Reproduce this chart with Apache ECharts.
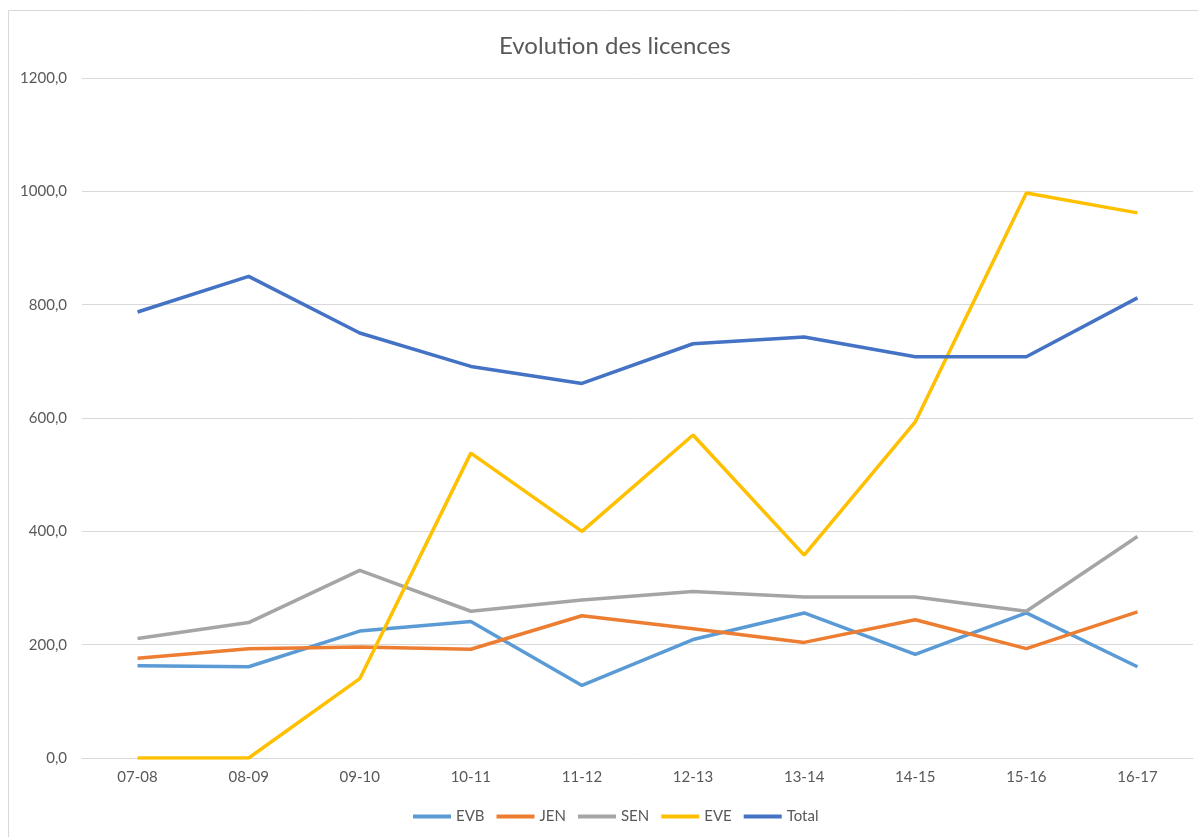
<!DOCTYPE html>
<html>
<head>
<meta charset="utf-8">
<script src="https://cdn.jsdelivr.net/npm/echarts@6/dist/echarts.min.js"></script>
<style>
  html, body { margin: 0; padding: 0; background: #fff; }
  #chart { width: 1198px; height: 837px; }
</style>
</head>
<body>
<div id="chart"></div>
<script>
var seasons = ['07-08', '08-09', '09-10', '10-11', '11-12', '12-13', '13-14', '14-15', '15-16', '16-17'];
var evb = [163, 161, 224, 241, 128, 209, 256, 183, 256, 161];
var jen = [176, 193, 196, 192, 251, 228, 204, 244, 193, 258];
var sen = [211, 239, 331, 259, 279, 294, 284, 284, 259, 391];
var eve = [0, 0, 140, 538, 400, 570, 358, 593, 997, 962];
var total = [787, 850, 750, 691, 661, 731, 743, 708, 708, 812];

var myChart = echarts.init(document.getElementById('chart'));

function makeLine(name, data, color) {
    return {
        name: name,
        type: 'line',
        data: data,
        symbol: 'none',
        lineStyle: { width: 3.5, color: color },
        itemStyle: { color: color }
    };
}

var font = 'Lato, "Open Sans", sans-serif';

var option = {
    animation: false,
    textStyle: { fontFamily: font },
    title: {
        text: 'Evolution des licences',
        left: 494,
        top: 29,
        textStyle: { fontSize: 24, fontWeight: 'normal', color: '#595959', fontFamily: font }
    },
    legend: {
        bottom: 8,
        left: 408,
        icon: 'rect',
        itemWidth: 38,
        itemHeight: 4,
        itemGap: 12,
        textStyle: { fontSize: 15, color: '#595959', fontFamily: font },
        data: ['EVB', 'JEN', 'SEN', 'EVE', 'Total']
    },
    graphic: [{
        type: 'rect',
        shape: { x: 8.5, y: 10.5, width: 1200, height: 840 },
        style: { fill: 'none', stroke: '#d9d9d9', lineWidth: 1 },
        silent: true
    }],
    grid: {
        left: 82,
        right: 5,
        top: 78,
        bottom: 79
    },
    xAxis: {
        type: 'category',
        boundaryGap: true,
        data: seasons,
        axisLine: { lineStyle: { color: '#d9d9d9', width: 1 } },
        axisTick: { show: false },
        axisLabel: { color: '#595959', fontSize: 15, margin: 12, fontFamily: font }
    },
    yAxis: {
        type: 'value',
        min: 0,
        max: 1200,
        interval: 200,
        axisLine: { show: false },
        axisTick: { show: false },
        splitLine: { lineStyle: { color: '#d9d9d9', width: 1 } },
        axisLabel: {
            color: '#595959',
            fontSize: 15,
            margin: 15,
            fontFamily: font,
            formatter: function (v) { return v.toFixed(1).replace('.', ','); }
        }
    },
    series: [
        makeLine('EVB', evb, '#5B9BD5'),
        makeLine('JEN', jen, '#ED7D31'),
        makeLine('SEN', sen, '#A5A5A5'),
        makeLine('EVE', eve, '#FFC000'),
        makeLine('Total', total, '#4472C4')
    ]
};
myChart.setOption(option);
</script>
</body>
</html>
